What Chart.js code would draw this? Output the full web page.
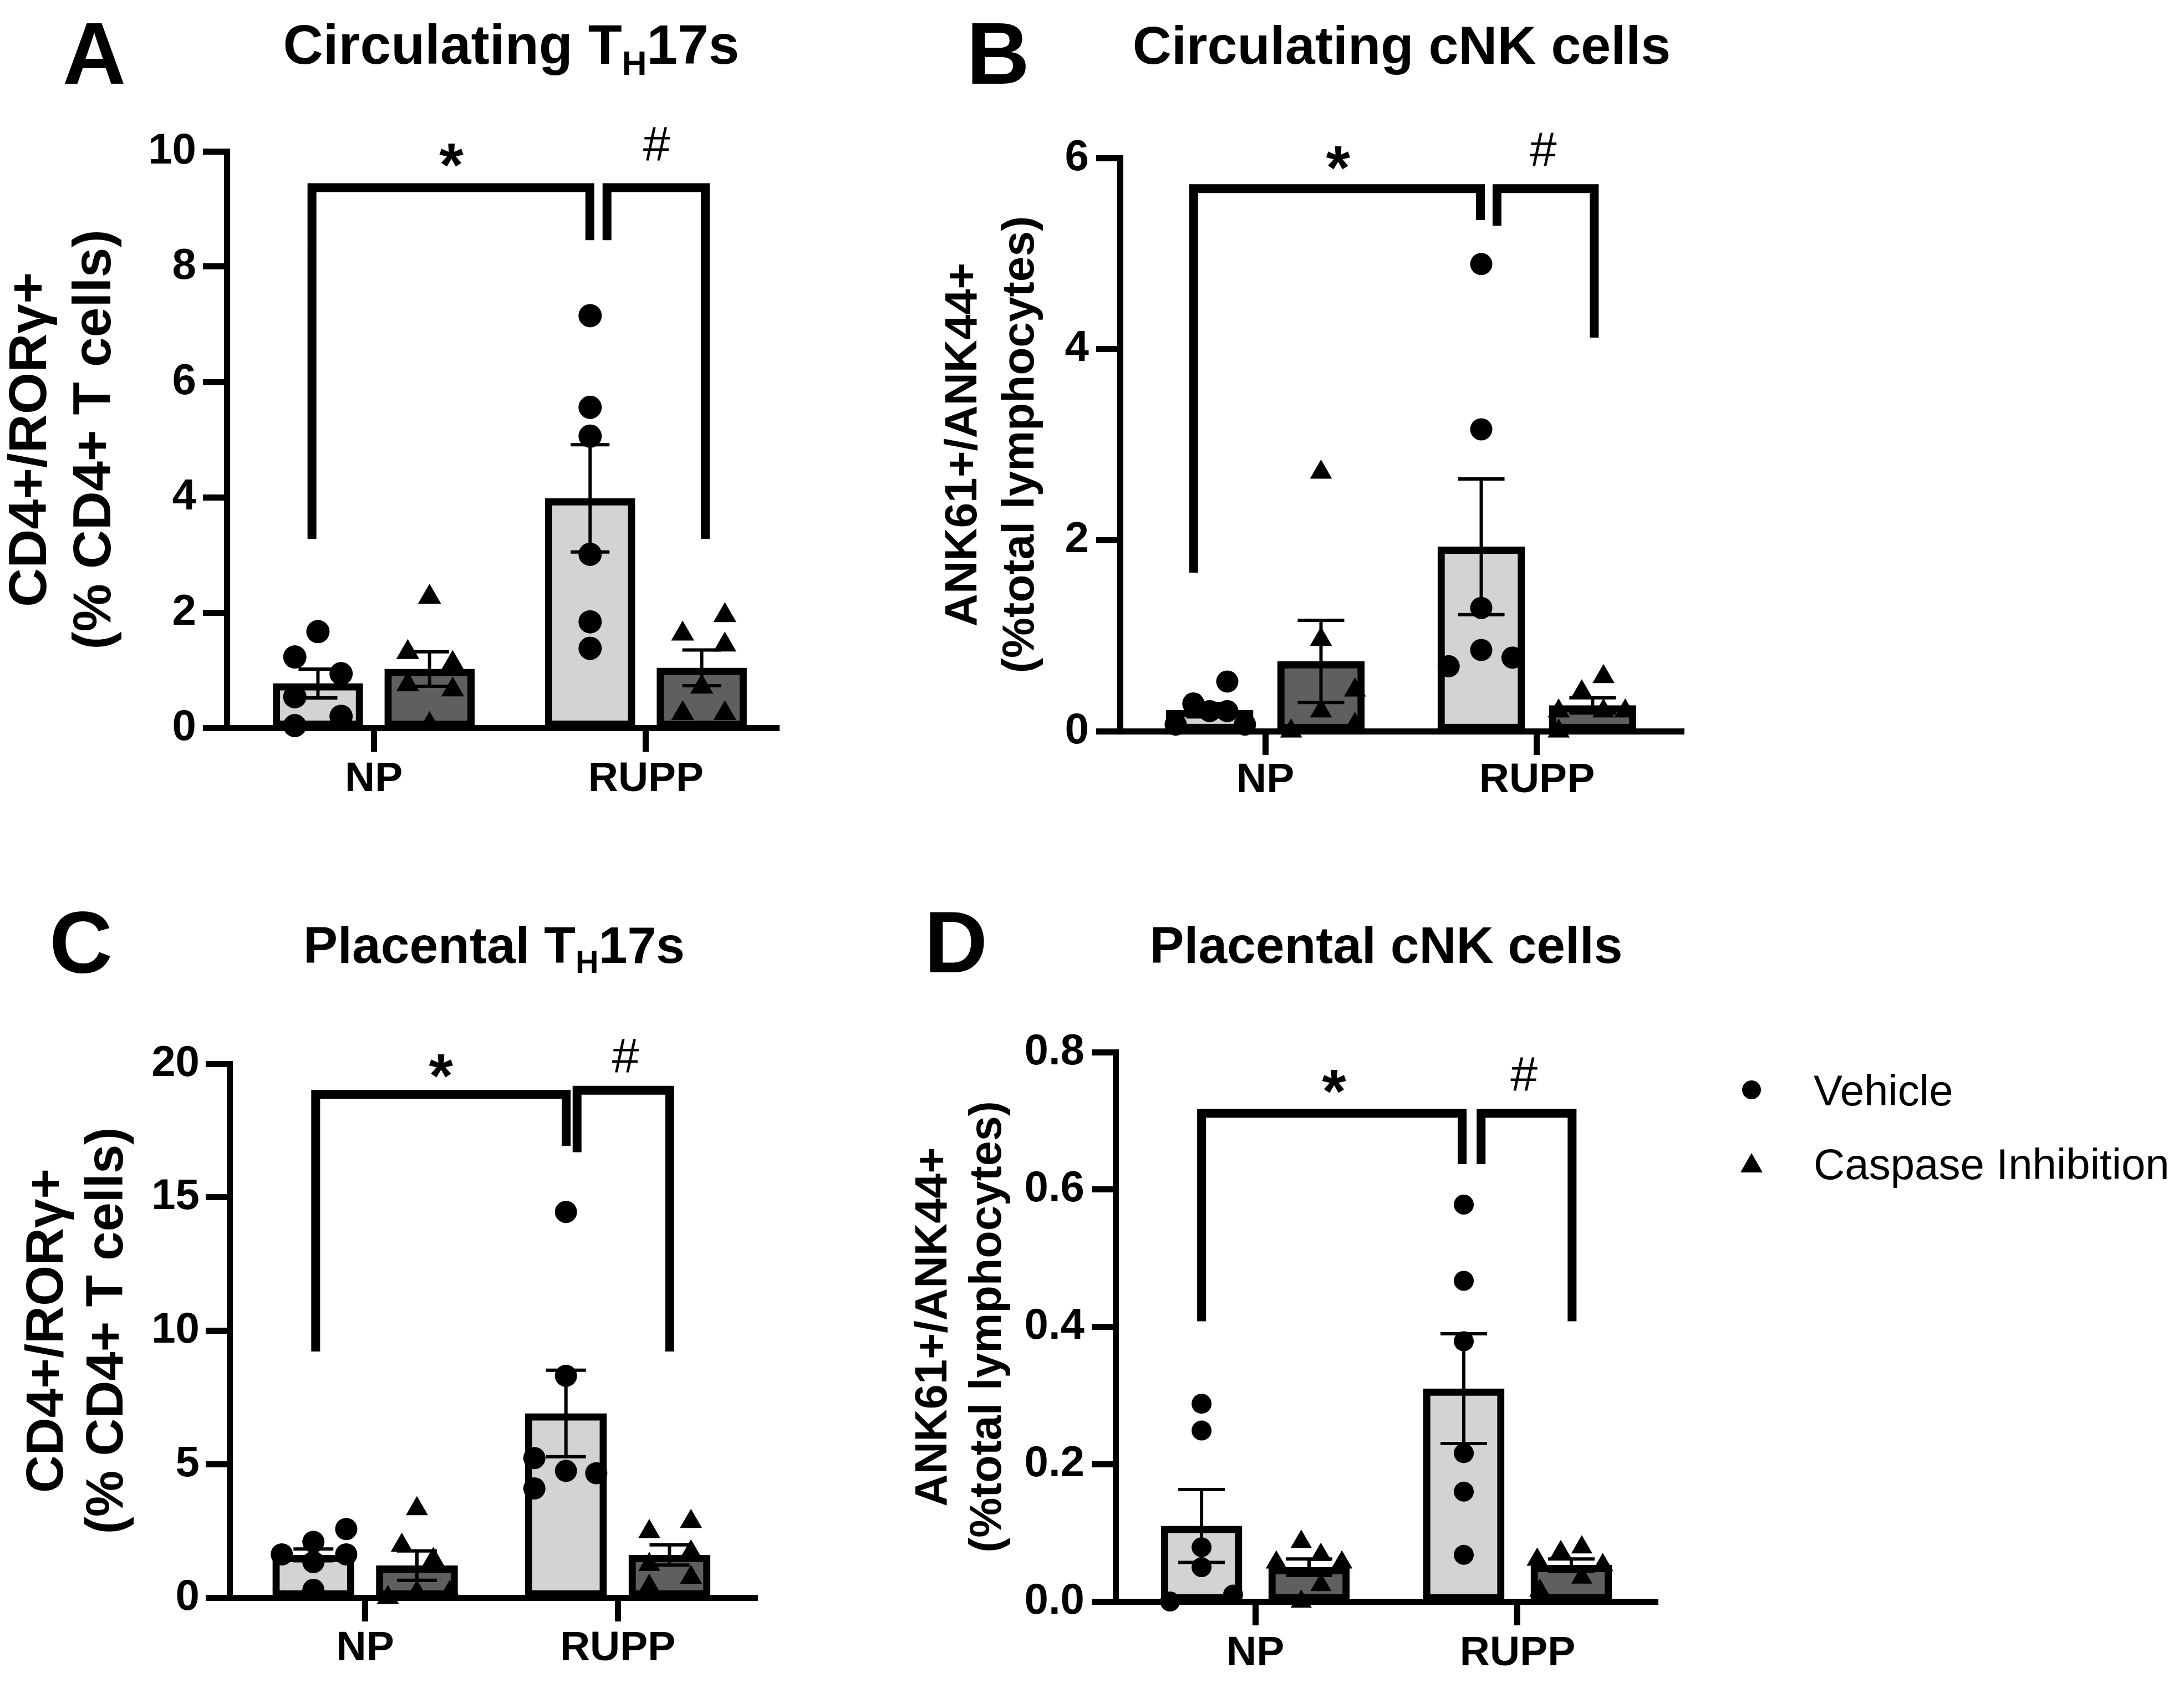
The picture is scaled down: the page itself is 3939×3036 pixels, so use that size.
<!DOCTYPE html>
<html>
<head>
<meta charset="utf-8">
<script src="https://cdn.jsdelivr.net/npm/chart.js@4.4.1/dist/chart.umd.min.js"></script>
<style>
body{margin:0;width:3939px;height:3036px;background:#fff;position:relative;overflow:hidden;font-family:'Liberation Sans',Arial,sans-serif;color:#000}
canvas{position:absolute}
.letter{position:absolute;font-size:158px;font-weight:bold;line-height:1}
.title{position:absolute;font-weight:bold;line-height:1;transform:translateX(-50%);white-space:nowrap}
.title sub{font-size:62%;vertical-align:-0.32em;line-height:0}
.legend{position:absolute;font-size:78px;line-height:1;white-space:nowrap}
.dot{position:absolute;width:34px;height:34px;border-radius:50%;background:#000}
.tri{position:absolute;width:0;height:0;border-left:20px solid transparent;border-right:20px solid transparent;border-bottom:35px solid #000}
</style>
</head>
<body>
<div class="letter" style="left:113px;top:17px">A</div>
<div class="title" style="left:922px;top:30px;font-size:100px">Circulating T<sub>H</sub>17s</div>
<div class="letter" style="left:1743px;top:17px">B</div>
<div class="title" style="left:2528px;top:33px;font-size:97px">Circulating cNK cells</div>
<div class="letter" style="left:89px;top:1620px">C</div>
<div class="title" style="left:891px;top:1659px;font-size:93px">Placental T<sub>H</sub>17s</div>
<div class="letter" style="left:1667px;top:1620px">D</div>
<div class="title" style="left:2500px;top:1659px;font-size:93px">Placental cNK cells</div>

<canvas id="chartA" width="1460" height="1520" style="left:0px;top:0px;width:1460px;height:1520px"></canvas>
<canvas id="chartB" width="1460" height="1520" style="left:1640px;top:0px;width:1460px;height:1520px"></canvas>
<canvas id="chartC" width="1460" height="1476" style="left:0px;top:1560px;width:1460px;height:1476px"></canvas>
<canvas id="chartD" width="1460" height="1476" style="left:1600px;top:1560px;width:1460px;height:1476px"></canvas>

<div class="dot" style="left:3142px;top:1949px"></div>
<div class="legend" style="left:3271px;top:1928px">Vehicle</div>
<div class="tri" style="left:3139px;top:2080px"></div>
<div class="legend" style="left:3271px;top:2061px">Caspase Inhibition</div>

<script>
// groups on the x axis
const groups = ['NP', 'RUPP'];

// A - circulating TH17s
const aYTitle = ['CD4+/RORγ+', '(% CD4+ T cells)'];
const aYTicks = [0, 2, 4, 6, 8, 10];
const aYLabels = ['0', '2', '4', '6', '8', '10'];
const aVehMean = [0.77, 3.98];
const aVehSem = [0.25, 0.93];
const aCasMean = [1.02, 1.04];
const aCasSem = [0.30, 0.31];
const aVehPts = [[1.67, 1.23, 0.94, 0.54, 0.20, 0.04], [7.15, 5.56, 5.06, 3.01, 1.84, 1.38]];
const aCasPts = [[2.27, 1.31, 1.12, 0.75, 0.66, 0.06], [1.95, 1.63, 1.44, 0.71, 0.25, 0.25]];

// B - circulating cNK cells
const bYTitle = ['ANK61+/ANK44+', '(%total lymphocytes)'];
const bYTicks = [0, 2, 4, 6];
const bYLabels = ['0', '2', '4', '6'];
const bVehMean = [0.22, 1.93];
const bVehSem = [0.07, 0.71];
const bCasMean = [0.73, 0.27];
const bCasSem = [0.43, 0.08];
const bVehPts = [[0.07, 0.29, 0.21, 0.21, 0.52, 0.07], [4.89, 3.16, 1.29, 0.85, 0.68, 0.77]];
const bCasPts = [[2.71, 0.96, 0.43, 0.21, 0.0, 0.07], [0.57, 0.41, 0.21, 0.21, 0.21, 0.0]];

// C - placental TH17s
const cYTitle = ['CD4+/RORγ+', '(% CD4+ T cells)'];
const cYTicks = [0, 5, 10, 15, 20];
const cYLabels = ['0', '5', '10', '15', '20'];
const cVehMean = [1.6, 6.9];
const cVehSem = [0.22, 1.62];
const cCasMean = [1.2, 1.6];
const cCasSem = [0.55, 0.38];
const cVehPts = [[2.09, 2.57, 1.62, 1.62, 1.33, 0.29], [14.45, 8.31, 5.23, 4.75, 4.66, 4.09]];
const cCasPts = [[3.33, 1.96, 1.43, 0.0, 0.19, 0.19], [2.85, 2.47, 1.71, 1.24, 0.76, 0.42]];

// D - placental cNK cells
const dYTitle = ['ANK61+/ANK44+', '(%total lymphocytes)'];
const dYTicks = [0, 0.2, 0.4, 0.6, 0.8];
const dYLabels = ['0.0', '0.2', '0.4', '0.6', '0.8'];
const dVehMean = [0.11, 0.31];
const dVehSem = [0.053, 0.08];
const dCasMean = [0.05, 0.053];
const dCasSem = [0.012, 0.009];
const dVehPts = [[0.288, 0.249, 0.079, 0.05, 0.0, 0.01], [0.578, 0.467, 0.379, 0.216, 0.16, 0.068]];
const dCasPts = [[0.087, 0.057, 0.068, 0.057, 0.024, 0.0], [0.079, 0.072, 0.061, 0.053, 0.035, 0.016]];

// horizontal scatter of the dots around each bar (x units)
const aVehJit = [[0, -0.085, 0.085, -0.085, 0.085, -0.085], [0, 0, 0, 0, 0, 0]];
const aCasJit = [[0, -0.08, 0.085, -0.08, 0.085, 0], [0.085, -0.07, 0.085, 0, -0.07, 0.085]];
const bVehJit = [[-0.125, -0.06, 0, 0.065, 0.065, 0.13], [0, 0, 0, 0, -0.12, 0.115]];
const bCasJit = [[0, 0, 0.125, 0, -0.11, 0.125], [0.04, -0.04, -0.125, 0.04, 0.12, -0.125]];
const cVehJit = [[0, 0.13, -0.125, 0.13, 0, 0], [0, 0, -0.125, 0, 0.12, -0.125]];
const cCasJit = [[0, -0.06, 0.065, -0.115, 0, 0.13], [0.085, -0.08, 0.085, -0.08, 0.085, -0.08]];
const dVehJit = [[0, 0, 0, 0, -0.12, 0.12], [0, 0, 0, 0, 0, 0]];
const dCasJit = [[-0.03, -0.125, 0.045, 0.125, 0.045, -0.03], [0.04, -0.04, -0.13, 0.12, 0.04, -0.12]];

// significance brackets: [x1, x2, top, left end, right end] and marks [text, x, y]
const aBrackets = [[0.773, 1.794, 9.37, 3.28, 8.46], [1.857, 2.218, 9.37, 8.46, 3.28]];
const aMarks = [['*', 1.285, 10.0], ['#', 2.039, 10.15]];
const bBrackets = [[0.736, 1.792, 5.68, 1.66, 5.35], [1.853, 2.211, 5.68, 5.29, 4.12]];
const bMarks = [['*', 1.268, 6.04], ['#', 2.023, 6.1]];
const cBrackets = [[0.804, 1.796, 18.86, 9.22, 16.92], [1.839, 2.206, 19.01, 16.69, 9.22]];
const cMarks = [['*', 1.30, 20.06], ['#', 2.031, 20.34]];
const dBrackets = [[0.795, 1.789, 0.711, 0.408, 0.637], [1.861, 2.208, 0.711, 0.637, 0.408]];
const dMarks = [['*', 1.30, 0.763], ['#', 2.025, 0.770]];

const OFF = 0.205;
const FONT = "'Liberation Sans', Arial, sans-serif";

function toPoints(values, jitter, shift) {
    const out = [];
    values.forEach((vals, g) => vals.forEach((v, i) => out.push({x: g + 1 + shift + jitter[g][i], y: v})));
    return out;
}
function toBars(means, shift) {
    return means.map((m, g) => ({x: g + 1 + shift, y: m}));
}

// SEM bars, drawn right after each bar dataset
const errorBars = {
    id: 'errorBars',
    afterDatasetDraw(chart, args) {
        const ds = chart.data.datasets[args.index];
        if (!ds.errors) return;
        const {ctx, scales: {x, y}} = chart;
        const cap = chart.options.capHalf;
        ctx.save();
        ctx.strokeStyle = '#000';
        ctx.lineWidth = 6;
        ds.data.forEach((d, i) => {
            const px = x.getPixelForValue(d.x);
            const top = y.getPixelForValue(d.y + ds.errors[i]);
            const bot = y.getPixelForValue(Math.max(0, d.y - ds.errors[i]));
            ctx.beginPath();
            ctx.moveTo(px, top); ctx.lineTo(px, bot);
            ctx.moveTo(px - cap, top); ctx.lineTo(px + cap, top);
            ctx.moveTo(px - cap, bot); ctx.lineTo(px + cap, bot);
            ctx.stroke();
        });
        ctx.restore();
    }
};

function sigPlugin(brackets, marks) {
    return {
        id: 'sig',
        afterDraw(chart) {
            const {ctx, scales: {x, y}} = chart;
            ctx.save();
            ctx.strokeStyle = '#000';
            ctx.lineWidth = 16;
            ctx.lineJoin = 'miter';
            brackets.forEach(([x1, x2, top, e1, e2]) => {
                ctx.beginPath();
                ctx.moveTo(x.getPixelForValue(x1), y.getPixelForValue(e1));
                ctx.lineTo(x.getPixelForValue(x1), y.getPixelForValue(top));
                ctx.lineTo(x.getPixelForValue(x2), y.getPixelForValue(top));
                ctx.lineTo(x.getPixelForValue(x2), y.getPixelForValue(e2));
                ctx.stroke();
            });
            ctx.fillStyle = '#000';
            ctx.textAlign = 'center';
            ctx.textBaseline = 'alphabetic';
            marks.forEach(([t, mx, my]) => {
                const px = x.getPixelForValue(mx), py = y.getPixelForValue(my);
                if (t === '*') {
                    ctx.font = 'bold 112px ' + FONT;
                    ctx.fillText(t, px, py + 0.56 * 112);
                } else {
                    ctx.font = '88px ' + FONT;
                    ctx.fillText(t, px, py + 0.36 * 88);
                }
            });
            ctx.restore();
        }
    };
}

function makePanel(p) {
    const canvas = document.getElementById(p.id);
    const W = canvas.width, H = canvas.height;
    return new Chart(canvas, {
        type: 'bar',
        data: {
            datasets: [
                {type: 'scatter', label: 'Vehicle', data: toPoints(p.vehPts, p.vehJit, -OFF), pointStyle: 'circle', pointRadius: p.r, backgroundColor: '#000', borderColor: '#000', borderWidth: 0, clip: false, order: 1},
                {type: 'scatter', label: 'Caspase Inhibition', data: toPoints(p.casPts, p.casJit, OFF), pointStyle: 'triangle', pointRadius: p.tr, backgroundColor: '#000', borderColor: '#000', borderWidth: 0, clip: false, order: 1},
                {type: 'bar', label: 'Vehicle mean', data: toBars(p.vehMean, -OFF), errors: p.vehSem, backgroundColor: '#d3d3d3', borderColor: '#000', borderWidth: 13, borderSkipped: false, barThickness: p.bw, grouped: false, order: 2},
                {type: 'bar', label: 'Caspase mean', data: toBars(p.casMean, OFF), errors: p.casSem, backgroundColor: '#5f5f5f', borderColor: '#000', borderWidth: 13, borderSkipped: false, barThickness: p.bw, grouped: false, order: 2}
            ]
        },
        options: {
            responsive: false,
            animation: false,
            events: [],
            capHalf: p.cap,
            layout: {padding: {left: 0, top: p.T, right: W - p.R, bottom: 0}},
            plugins: {legend: {display: false}, tooltip: {enabled: false}},
            scales: {
                x: {
                    type: 'linear', min: p.xMin, max: p.xMax, offset: false,
                    afterBuildTicks: s => { s.ticks = groups.map((g, i) => ({value: i + 1})); },
                    afterFit: s => { s.height = H - p.B; },
                    ticks: {callback: (v, i) => groups[i], font: {family: FONT, size: 75, weight: 'bold'}, color: '#000', padding: p.xPad, maxRotation: 0, autoSkip: false},
                    grid: {offset: false, drawOnChartArea: false, drawTicks: true, tickLength: 43, tickWidth: 11, tickColor: '#000'},
                    border: {display: true, width: 11, color: '#000'}
                },
                y: {
                    min: 0, max: p.yTicks[p.yTicks.length - 1],
                    afterBuildTicks: s => { s.ticks = p.yTicks.map(v => ({value: v})); },
                    afterFit: s => { s.width = p.L; },
                    ticks: {callback: (v, i) => p.yLabels[i], font: {family: FONT, size: 78, weight: 'bold'}, color: '#000', padding: p.yPad},
                    grid: {drawOnChartArea: false, drawTicks: true, tickLength: 43, tickWidth: 11, tickColor: '#000'},
                    border: {display: true, width: 11, color: '#000'},
                    title: {display: true, text: p.yTitle, color: '#000', font: {family: FONT, size: p.tSize, weight: 'bold', lineHeight: p.tLh}, padding: {top: p.tPad, bottom: 0}}
                }
            }
        },
        plugins: [errorBars, sigPlugin(p.brackets, p.marks)]
    });
}

makePanel({id: 'chartA', L: 409, R: 1405, T: 273, B: 1313, xMin: 0.460, xMax: 2.489,
    yTicks: aYTicks, yLabels: aYLabels, yTitle: aYTitle, tSize: 97, tLh: 1.2, tPad: -2, yPad: 12, xPad: 5,
    vehMean: aVehMean, vehSem: aVehSem, casMean: aCasMean, casSem: aCasSem,
    vehPts: aVehPts, casPts: aCasPts, vehJit: aVehJit, casJit: aCasJit,
    brackets: aBrackets, marks: aMarks, bw: 162, cap: 35, r: 21, tr: 24});

makePanel({id: 'chartB', L: 380, R: 1397, T: 285, B: 1319, xMin: 0.465, xMax: 2.541,
    yTicks: bYTicks, yLabels: bYLabels, yTitle: bYTitle, tSize: 82, tLh: 1.256, tPad: 47, yPad: 13, xPad: 1,
    vehMean: bVehMean, vehSem: bVehSem, casMean: bCasMean, casSem: bCasSem,
    vehPts: bVehPts, casPts: bCasPts, vehJit: bVehJit, casJit: bCasJit,
    brackets: bBrackets, marks: bMarks, bw: 157, cap: 42, r: 20, tr: 23});

makePanel({id: 'chartC', L: 414, R: 1366, T: 359, B: 1322, xMin: 0.463, xMax: 2.553,
    yTicks: cYTicks, yLabels: cYLabels, yTitle: cYTitle, tSize: 94, tLh: 1.15, tPad: 33, yPad: 11, xPad: 4,
    vehMean: cVehMean, vehSem: cVehSem, casMean: cCasMean, casSem: cCasSem,
    vehPts: cVehPts, casPts: cCasPts, vehJit: cVehJit, casJit: cCasJit,
    brackets: cBrackets, marks: cMarks, bw: 147, cap: 36, r: 20, tr: 23});

makePanel({id: 'chartD', L: 412, R: 1390, T: 338, B: 1329, xMin: 0.467, xMax: 2.535,
    yTicks: dYTicks, yLabels: dYLabels, yTitle: dYTitle, tSize: 81, tLh: 1.21, tPad: 36, yPad: 13, xPad: 6,
    vehMean: dVehMean, vehSem: dVehSem, casMean: dCasMean, casSem: dCasSem,
    vehPts: dVehPts, casPts: dCasPts, vehJit: dVehJit, casJit: dCasJit,
    brackets: dBrackets, marks: dMarks, bw: 146, cap: 42, r: 18, tr: 22});
</script>
</body>
</html>
